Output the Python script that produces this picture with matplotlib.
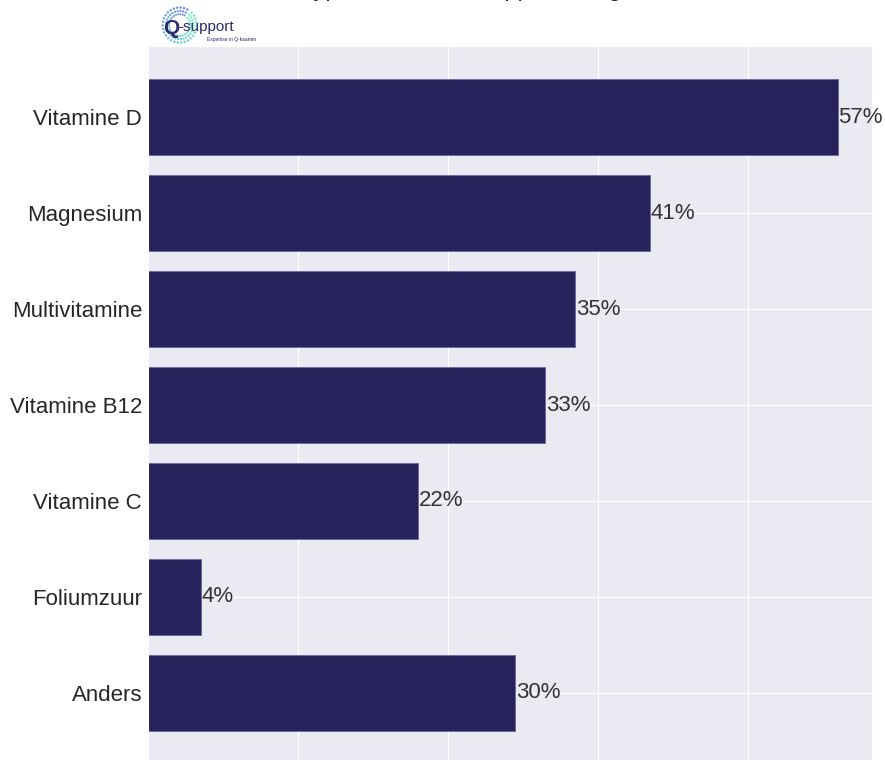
import numpy as np
import matplotlib.pyplot as plt
import seaborn as sns

# data: number of respondents per supplement type (n = 162)
categories = ['Vitamine D', 'Magnesium', 'Multivitamine', 'Vitamine B12',
              'Vitamine C', 'Foliumzuur', 'Anders']
counts = [92, 67, 57, 53, 36, 7, 49]
n_total = 162

sns.set_style('darkgrid')
plt.rcParams['font.family'] = ['Liberation Sans', 'DejaVu Sans']

fig = plt.figure(figsize=(8.85, 7.6), dpi=100)
ax = fig.add_axes([0.1676, -0.0053, 0.8177, 0.9448])

y = np.arange(len(categories))
bars = ax.barh(y, counts, height=0.8, color='#28225c', edgecolor='#6a6699', linewidth=0.6)
ax.set_yticks(y)
ax.set_yticklabels(categories, fontsize=16, color='#262626')
ax.invert_yaxis()
ax.xaxis.set_major_locator(plt.MultipleLocator(20))
ax.tick_params(axis='y', pad=1)
# x tick labels fall below the visible area in the original
ax.tick_params(axis='x', labelbottom=False)

labels = [f'{round(c / n_total * 100)}%' for c in counts]
ax.bar_label(bars, labels=labels, padding=0.5, fontsize=16, color='#333333')

# title, mostly above the visible area (only descenders show)
fig.text(0.55, 1.0053, 'Welk type vitamine of supplement gebruikt u?', ha='center',
         va='baseline', fontsize=17, color='#262626')

# Q-support logo
lax = fig.add_axes([0.178, 0.937, 0.05, 0.06])
lax.set_axis_off()
ang = np.linspace(0.35 * np.pi, 2.25 * np.pi, 30)
for r, s in [(1.0, 3), (0.8, 2.5), (0.62, 2)]:
    xs = r * np.cos(ang)
    ys = r * np.sin(ang)
    cols = plt.cm.winter(np.linspace(0.2, 0.95, len(ang)))
    lax.scatter(xs, ys, s=s, c=cols, alpha=0.6, linewidths=0)
lax.set_xlim(-1.3, 1.3)
lax.set_ylim(-1.3, 1.3)
fig.text(0.184, 0.963, 'Q', fontsize=15, color='#2b2a6b', fontweight='bold', va='center')
fig.text(0.202, 0.964, '-support', fontsize=11, color='#2b2a6b', va='center')
fig.text(0.234, 0.948, 'Expertise in Q-kaarten', fontsize=3.5, color='#2b2a6b', va='center')

fig.savefig('out.png', dpi=100)
